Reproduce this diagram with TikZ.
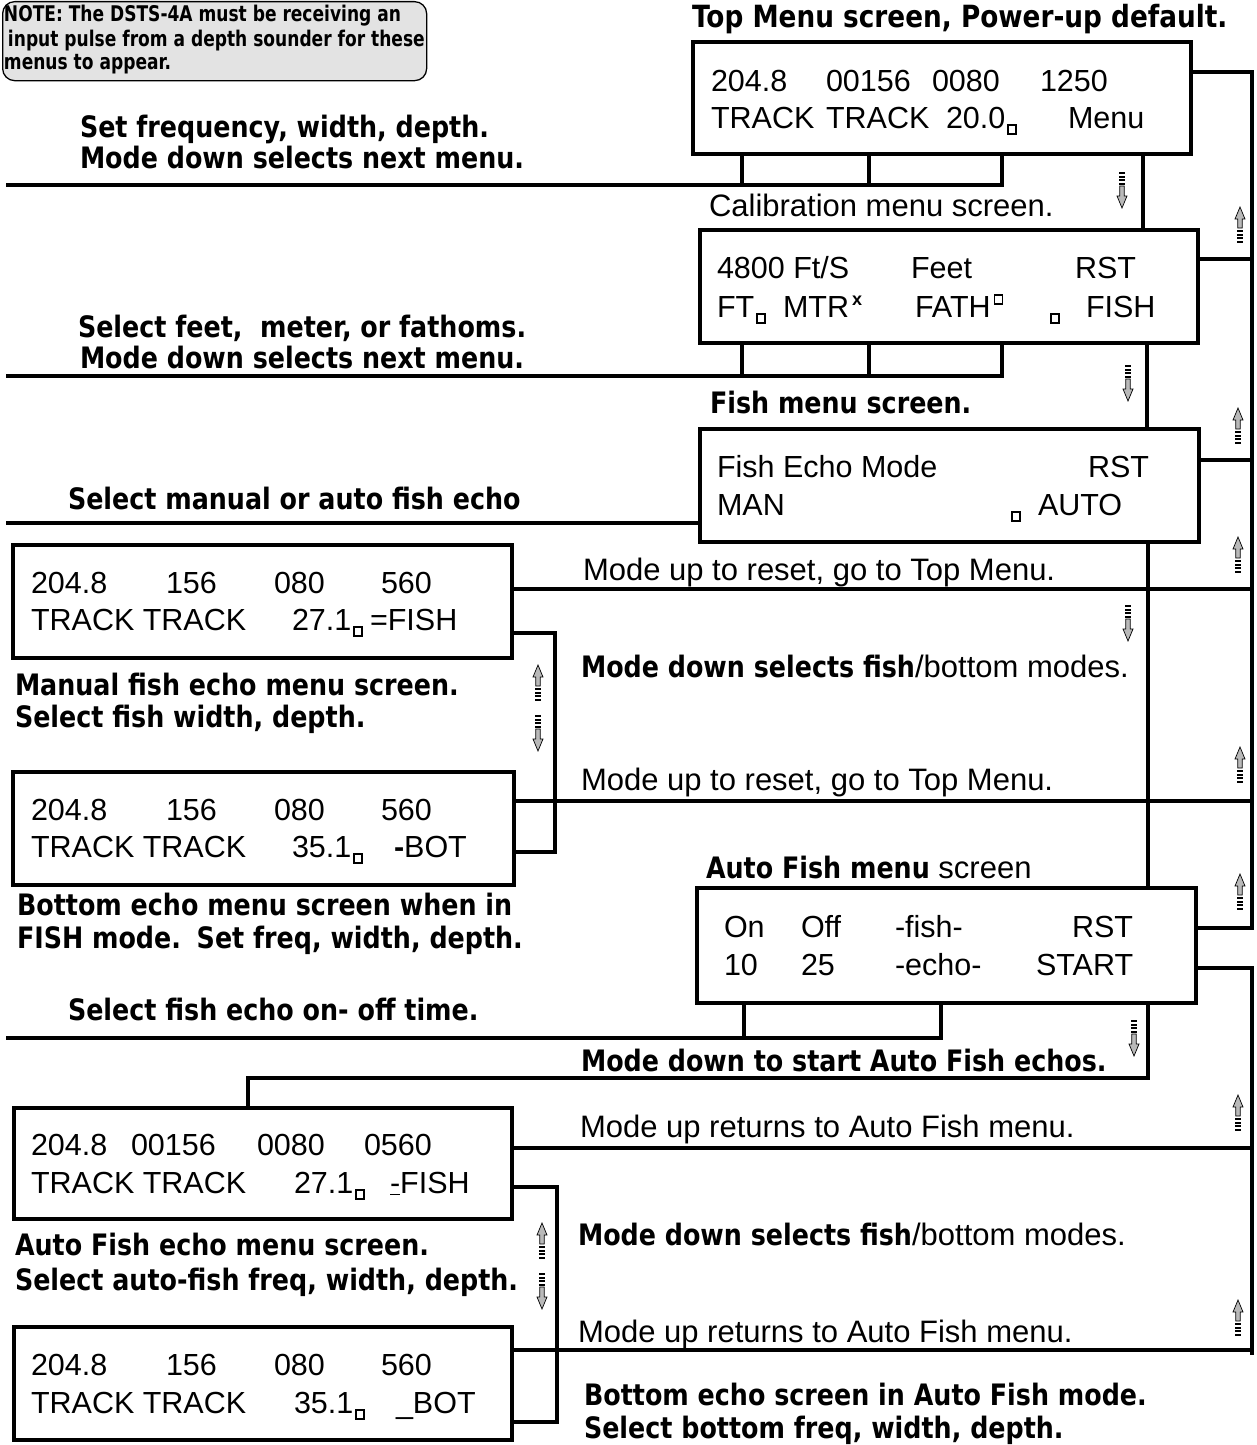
\documentclass[tikz,border=0pt]{standalone}
\usepackage{fontspec}
\setmainfont{Liberation Sans}
\newfontfamily\capf{DejaVu Sans}[FakeStretch=0.86]
\newfontfamily\notef{DejaVu Sans}[FakeStretch=0.79]
\newcommand\regsz{\fontsize{31}{31}\selectfont}
\newcommand\scrsz{\fontsize{30.5}{30.5}\selectfont}
\newcommand\capsz{\capf\bfseries\fontsize{29.5}{29.5}\selectfont}
\newcommand\notesz{\notef\bfseries\fontsize{21.6}{21.6}\selectfont}
\begin{document}
\begin{tikzpicture}[x=1pt,y=-1pt,
  scr/.style={draw,line width=4pt,anchor=north west,inner sep=0pt,outer sep=0pt},
  conn/.style={line width=3.5pt},
  regtxt/.style={anchor=base west,inner sep=0pt,outer sep=0pt,font=\regsz},
  scrtxt/.style={anchor=base west,inner sep=0pt,outer sep=0pt,font=\scrsz},
  captxt/.style={anchor=base west,inner sep=0pt,outer sep=0pt,font=\capsz},
  notetxt/.style={anchor=base west,inner sep=0pt,outer sep=0pt,font=\notesz},
  curs/.style={line width=1.6pt},
  supx/.style={anchor=base west,inner sep=0pt,outer sep=0pt,font=\bfseries\fontsize{18}{18}\selectfont},
  arrhead/.style={fill=gray!55,draw=black,line width=0.7pt},
  uparr/.pic={
    \path[arrhead] (0,0) -- (5,12) -- (2.2,12) -- (2.2,21) -- (-2.2,21) -- (-2.2,12) -- (-5,12) -- cycle;
    \foreach \q in {23,26.5,30,33.5}{\fill (-2.6,\q) rectangle (2.6,\q+2);}
  },
  dnarr/.pic={
    \foreach \q in {0,3.5,7,10.5}{\fill (-2.6,\q) rectangle (2.6,\q+2);}
    \path[arrhead] (0,36) -- (5,24) -- (2.2,24) -- (2.2,14) -- (-2.2,14) -- (-2.2,24) -- (-5,24) -- cycle;
  }
]
\newcommand\scrbox[5]{\node[scr,minimum width={(#4-#2)*1pt},minimum height={(#5-#3)*1pt}] (#1) at (#2,#3) {};}
\newcommand\tk[4]{\node[scrtxt] (#1) at (#2,#3) {#4};}
\newcommand\cur[2]{\draw[curs] (#1,#2-3) rectangle ++(8,9);}
\newcommand\curafter[1]{\draw[curs] ([xshift=2.5pt,yshift=3pt]#1.base east) rectangle ++(8,9);}
\useasboundingbox (0,0) rectangle (1256,1445);

% ---------- note ----------
\node[draw,fill=gray!22,rounded corners=12pt,line width=1.3pt,anchor=north west,inner sep=0pt,
      minimum width=424pt,minimum height=79pt] (note) at (2,1) {};
\node[notetxt] (n1) at (4,22) {NOTE: The DSTS-4A must be receiving an};
\node[notetxt] (n2) at (8,47) {input pulse from a depth sounder for these};
\node[notetxt] (n3) at (4,70) {menus to appear.};

% ---------- screens ----------
\scrbox{s1}{693}{42}{1191}{154}
\scrbox{s2}{700}{230}{1198}{343}
\scrbox{s3}{700}{429}{1199}{542}
\scrbox{s4}{13}{545}{512}{658}
\scrbox{s5}{13}{772}{514}{885}
\scrbox{s6}{697}{888}{1196}{1003}
\scrbox{s7}{14}{1108}{512}{1219}
\scrbox{s8}{14}{1327}{512}{1440}

% screen 1
\tk{a1}{711}{91}{204.8}\tk{a2}{826}{91}{00156}\tk{a3}{932}{91}{0080}\tk{a4}{1040}{91}{1250}
\tk{a5}{711}{128}{TRACK}\tk{a6}{826}{128}{TRACK}\tk{a7}{946}{128}{20.0}\curafter{a7}\tk{a8}{1068}{128}{Menu}
% screen 2
\tk{b1}{717}{278}{4800 Ft/S}\tk{b2}{911}{278}{Feet}\tk{b3}{1075}{278}{RST}
\tk{b4}{717}{317}{FT}\curafter{b4}\tk{b5}{783}{317}{MTR}\node[supx] (b6) at ([xshift=3pt,yshift=12pt]b5.base east) {x};
\tk{b7}{915}{317}{FATH}\draw[curs] ([xshift=4pt,yshift=22pt]b7.base east) rectangle ++(8,9);\cur{1051}{317}\tk{b8}{1086}{317}{FISH}
% screen 3
\tk{c1}{717}{477}{Fish Echo Mode}\tk{c2}{1088}{477}{RST}
\tk{c3}{717}{515}{MAN}\cur{1012}{515}\tk{c4}{1038}{515}{AUTO}
% screen 4
\tk{d1}{31}{593}{204.8}\tk{d2}{166}{593}{156}\tk{d3}{274}{593}{080}\tk{d4}{381}{593}{560}
\tk{d5}{31}{630}{TRACK TRACK}\tk{d6}{292}{630}{27.1}\curafter{d6}\tk{d7}{370}{630}{=FISH}
% screen 5
\tk{e1}{31}{820}{204.8}\tk{e2}{166}{820}{156}\tk{e3}{274}{820}{080}\tk{e4}{381}{820}{560}
\tk{e5}{31}{857}{TRACK TRACK}\tk{e6}{292}{857}{35.1}\curafter{e6}\tk{e7}{394}{857}{{\bfseries -}BOT}
% screen 6
\tk{f1}{724}{937}{On}\tk{f2}{801}{937}{Off}\tk{f3}{895}{937}{-fish-}\tk{f4}{1072}{937}{RST}
\tk{f5}{724}{975}{10}\tk{f6}{801}{975}{25}\tk{f7}{895}{975}{-echo-}\tk{f8}{1036}{975}{START}
% screen 7
\tk{g1}{31}{1155}{204.8}\tk{g2}{131}{1155}{00156}\tk{g3}{257}{1155}{0080}\tk{g4}{364}{1155}{0560}
\tk{g5}{31}{1193}{TRACK TRACK}\tk{g6}{294}{1193}{27.1}\curafter{g6}\tk{g7}{390}{1193}{\underline{-}FISH}
% screen 8
\tk{h1}{31}{1375}{204.8}\tk{h2}{166}{1375}{156}\tk{h3}{274}{1375}{080}\tk{h4}{381}{1375}{560}
\tk{h5}{31}{1413}{TRACK TRACK}\tk{h6}{294}{1413}{35.1}\curafter{h6}\tk{h7}{396}{1413}{\_BOT}

% ---------- captions ----------
\node[captxt,font=\capf\bfseries\fontsize{30.6}{30.6}\selectfont] (t1) at (692,28) {Top Menu screen, Power-up default.};
\node[captxt] (t2) at (80,137) {Set frequency, width, depth.};
\node[captxt] (t3) at (80,168) {Mode down selects next menu.};
\node[regtxt] (t4) at (709,216) {Calibration menu screen.};
\node[captxt] (t5) at (78,337) {Select feet,~ meter, or fathoms.};
\node[captxt] (t6) at (80,368) {Mode down selects next menu.};
\node[captxt] (t7) at (710,413) {Fish menu screen.};
\node[captxt] (t8) at (68,509) {Select manual or auto fish echo};
\node[regtxt] (t9) at (583,580) {Mode up to reset, go to Top Menu.};
\node[regtxt] (t10) at (581,677) {{\capsz Mode down selects fish}/bottom modes.};
\node[captxt] (t11) at (15,695) {Manual fish echo menu screen.};
\node[captxt] (t12) at (15,727) {Select fish width, depth.};
\node[regtxt] (t13) at (581,790) {Mode up to reset, go to Top Menu.};
\node[regtxt] (t14) at (706,878) {{\capsz Auto Fish menu} screen};
\node[captxt] (t15) at (17,915) {Bottom echo menu screen when in};
\node[captxt] (t16) at (17,948) {FISH mode.\hspace{4pt} Set freq, width, depth.};
\node[captxt] (t17) at (68,1020) {Select fish echo on- off time.};
\node[captxt] (t18) at (581,1071) {Mode down to start Auto Fish echos.};
\node[regtxt] (t19) at (580,1137) {Mode up returns to Auto Fish menu.};
\node[regtxt] (t20) at (578,1245) {{\capsz Mode down selects fish}/bottom modes.};
\node[captxt] (t21) at (15,1255) {Auto Fish echo menu screen.};
\node[captxt] (t22) at (15,1290) {Select auto-fish freq, width, depth.};
\node[regtxt] (t23) at (578,1342) {Mode up returns to Auto Fish menu.};
\node[captxt] (t24) at (584,1405) {Bottom echo screen in Auto Fish mode.};
\node[captxt] (t25) at (584,1438) {Select bottom freq, width, depth.};

% ---------- coordinates ----------
\coordinate (xa) at (742,0); \coordinate (xb) at (869,0); \coordinate (xc) at (1002,0);
\coordinate (xd) at (744,0); \coordinate (xe) at (941,0);
\coordinate (L1) at (6,185); \coordinate (L2) at (6,376); \coordinate (L3) at (6,523); \coordinate (L4) at (6,1038);
\coordinate (sp1) at (1143,0); \coordinate (sp2) at (1147,0); \coordinate (sp3) at (1148,0);
\coordinate (jn) at (1148,1078); \coordinate (jw) at (248,1078);
\coordinate (r1t) at (1252,72); \coordinate (r1b) at (1252,928);
\coordinate (c2) at (1252,259); \coordinate (c3) at (1252,460);
\coordinate (c4) at (1252,589); \coordinate (c5) at (1252,801);
\coordinate (r2t) at (1252,968); \coordinate (r2b) at (1252,1355);
\coordinate (c7) at (1252,1148); \coordinate (c8) at (1252,1350);
\coordinate (b1) at (555,633); \coordinate (b2) at (555,852);
\coordinate (b3) at (557,1187); \coordinate (b4) at (557,1422);

% ---------- connectors ----------
\draw[conn] (L1) -| (s1.south -| xc);
\draw[conn] (s1.south -| xa) -- (xa |- L1);
\draw[conn] (s1.south -| xb) -- (xb |- L1);
\draw[conn] (L2) -| (s2.south -| xc);
\draw[conn] (s2.south -| xa) -- (xa |- L2);
\draw[conn] (s2.south -| xb) -- (xb |- L2);
\draw[conn] (L3) -- (s3.west |- L3);
\draw[conn] (L4) -| (s6.south -| xe);
\draw[conn] (s6.south -| xd) -- (xd |- L4);

\draw[conn] (s1.south -| sp1) -- (s2.north -| sp1);
\draw[conn] (s2.south -| sp2) -- (s3.north -| sp2);
\draw[conn] (s3.south -| sp3) -- (s6.north -| sp3);
\draw[conn] (s6.south -| sp3) -- (jn) -- (jw) -- (s7.north -| jw);

\draw[conn] (s1.east |- r1t) -- (r1t) -- (r1b) -- (s6.east |- r1b);
\draw[conn] (s2.east |- c2) -- (c2);
\draw[conn] (s3.east |- c3) -- (c3);
\draw[conn] (s4.east |- c4) -- (c4);
\draw[conn] (s5.east |- c5) -- (c5);
\draw[conn] (s6.east |- r2t) -- (r2t) -- (r2b);
\draw[conn] (s7.east |- c7) -- (c7);
\draw[conn] (s8.east |- c8) -- (c8);

\draw[conn] (s4.east |- b1) -- (b1) -- (b2) -- (s5.east |- b2);
\draw[conn] (s7.east |- b3) -- (b3) -- (b4) -- (s8.east |- b4);

% ---------- arrows ----------
\pic at (1240,207) {uparr};
\pic at (1238,408) {uparr};
\pic at (1238,537) {uparr};
\pic at (1240,747) {uparr};
\pic at (1240,874) {uparr};
\pic at (1238,1095) {uparr};
\pic at (1238,1300) {uparr};
\pic at (538,665) {uparr};
\pic at (542,1223) {uparr};
\pic at (1122,172) {dnarr};
\pic at (1128,365) {dnarr};
\pic at (1128,605) {dnarr};
\pic at (1134,1020) {dnarr};
\pic at (538,715) {dnarr};
\pic at (542,1273) {dnarr};
\end{tikzpicture}
\end{document}
